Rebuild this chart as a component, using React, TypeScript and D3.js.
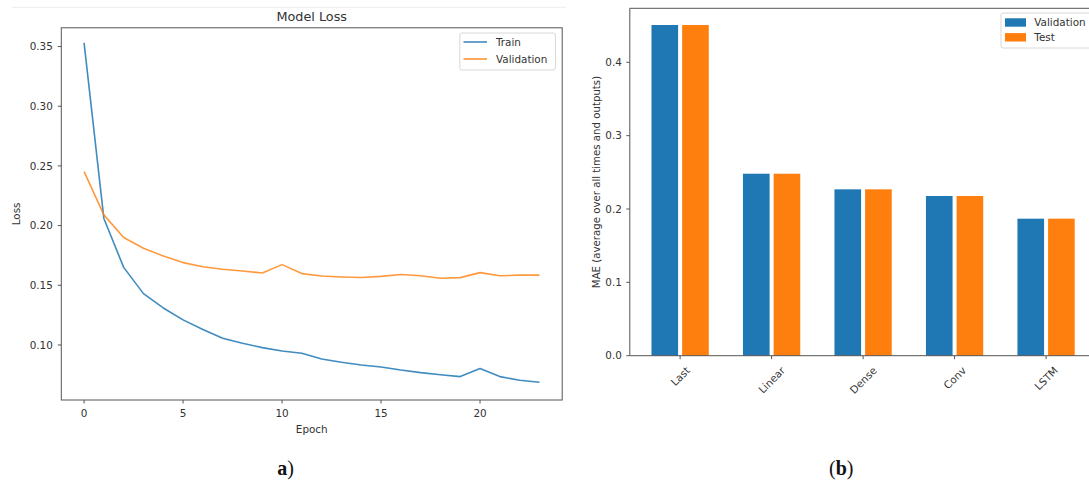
import React, { useEffect, useRef } from "react";
import * as d3 from "d3";

const epochs = [0, 1, 2, 3, 4, 5, 6, 7, 8, 9, 10, 11, 12, 13, 14, 15, 16, 17, 18, 19, 20, 21, 22, 23];
const trainLoss = [0.353, 0.206, 0.165, 0.143, 0.131, 0.121, 0.113, 0.1056, 0.1014, 0.0978, 0.095, 0.093, 0.0883, 0.0855, 0.0832, 0.0816, 0.079, 0.0768, 0.0751, 0.0735, 0.0802, 0.0735, 0.0705, 0.0688];
const valLoss = [0.2452, 0.209, 0.19, 0.181, 0.1746, 0.169, 0.1655, 0.1634, 0.162, 0.1603, 0.1673, 0.1598, 0.1578, 0.157, 0.1565, 0.1575, 0.159, 0.158, 0.1559, 0.1564, 0.1606, 0.158, 0.1585, 0.1585];
const lossTicks = [0.1, 0.15, 0.2, 0.25, 0.3, 0.35];
const epochTicks = [0, 5, 10, 15, 20];

const models = ["Last", "Linear", "Dense", "Conv", "LSTM"];
const valMAE = [0.4508, 0.2481, 0.2268, 0.2177, 0.1868];
const testMAE = [0.4508, 0.2481, 0.2268, 0.2177, 0.1868];
const maeTicks = [0.0, 0.1, 0.2, 0.3, 0.4];

const BLUE = "#1f77b4";
const ORANGE = "#ff7f0e";
const TXT = "#333";
const AX = "#555";
const FONT = "'DejaVu Sans', sans-serif";

export default function App() {
  const ref = useRef<SVGSVGElement>(null);

  useEffect(() => {
    const svg = d3.select(ref.current);
    svg.selectAll("*").remove();

    // faint top border artifact
    svg.append("line").attr("x1", 12).attr("x2", 566).attr("y1", 7.3).attr("y2", 7.3)
      .attr("stroke", "#ececec").attr("stroke-width", 1);

    // ---------------- Panel a ----------------
    const L = { left: 61.3, right: 562.2, top: 27.8, bottom: 400 };
    const x = d3.scaleLinear().domain([-1.15, 24.15]).range([L.left, L.right]);
    const y = d3.scaleLinear().domain([0.0539, 0.3657]).range([L.bottom, L.top]);

    const ga = svg.append("g");
    ga.append("rect").attr("x", L.left).attr("y", L.top).attr("width", L.right - L.left)
      .attr("height", L.bottom - L.top).attr("fill", "none").attr("stroke", AX).attr("stroke-width", 1);

    lossTicks.forEach((t) => {
      ga.append("line").attr("x1", L.left - 3.5).attr("x2", L.left).attr("y1", y(t)).attr("y2", y(t))
        .attr("stroke", AX);
      ga.append("text").attr("x", L.left - 8.5).attr("y", y(t)).attr("dy", "0.35em")
        .attr("text-anchor", "end").attr("font-size", 10.4).attr("font-family", FONT).attr("fill", TXT)
        .text(d3.format(".2f")(t));
    });
    epochTicks.forEach((t) => {
      ga.append("line").attr("x1", x(t)).attr("x2", x(t)).attr("y1", L.bottom).attr("y2", L.bottom + 3.5)
        .attr("stroke", AX);
      ga.append("text").attr("x", x(t)).attr("y", L.bottom + 16.5)
        .attr("text-anchor", "middle").attr("font-size", 10.4).attr("font-family", FONT).attr("fill", TXT)
        .text(String(t));
    });

    const line = d3.line<number>().x((_, i) => x(epochs[i])).y((d) => y(d));
    ga.append("path").attr("d", line(trainLoss)).attr("fill", "none").attr("stroke", BLUE)
      .attr("stroke-width", 1.6).attr("stroke-linejoin", "round").attr("opacity", 0.85);
    ga.append("path").attr("d", line(valLoss)).attr("fill", "none").attr("stroke", ORANGE)
      .attr("stroke-width", 1.6).attr("stroke-linejoin", "round").attr("opacity", 0.8);

    ga.append("text").attr("x", (L.left + L.right) / 2).attr("y", 20.5).attr("text-anchor", "middle")
      .attr("font-size", 12.8).attr("font-family", FONT).attr("fill", TXT).text("Model Loss");
    ga.append("text").attr("x", (L.left + L.right) / 2).attr("y", 433).attr("text-anchor", "middle")
      .attr("font-size", 10.4).attr("font-family", FONT).attr("fill", TXT).text("Epoch");
    ga.append("text").attr("transform", `translate(16.5, ${(L.top + L.bottom) / 2}) rotate(-90)`)
      .attr("dy", "0.35em").attr("text-anchor", "middle")
      .attr("font-size", 10.4).attr("font-family", FONT).attr("fill", TXT).text("Loss");

    // legend a
    const lg = ga.append("g");
    lg.append("rect").attr("x", 459.8).attr("y", 33).attr("width", 95.6).attr("height", 37).attr("rx", 2)
      .attr("fill", "white").attr("stroke", "#d8d8d8");
    [["Train", BLUE, 42], ["Validation", ORANGE, 59]].forEach(([name, c, yy]) => {
      lg.append("line").attr("x1", 463.5).attr("x2", 487).attr("y1", yy as number).attr("y2", yy as number)
        .attr("stroke", c as string).attr("stroke-width", 1.6).attr("opacity", 0.85);
      lg.append("text").attr("x", 496).attr("y", yy as number).attr("dy", "0.35em")
        .attr("font-size", 10.4).attr("font-family", FONT).attr("fill", TXT).text(name as string);
    });

    // ---------------- Panel b ----------------
    const R = { left: 629.8, right: 1096.4, top: 8.3, bottom: 355.7 };
    const xb = d3.scaleLinear().domain([-0.55, 4.55]).range([R.left, R.right]);
    const yb = d3.scaleLinear().domain([0, 0.4736]).range([R.bottom, R.top]);
    const gb = svg.append("g");

    models.forEach((m, i) => {
      gb.append("rect").attr("x", xb(i - 0.313)).attr("width", xb(i - 0.022) - xb(i - 0.313))
        .attr("y", yb(valMAE[i])).attr("height", yb(0) - yb(valMAE[i])).attr("fill", BLUE);
      gb.append("rect").attr("x", xb(i + 0.022)).attr("width", xb(i + 0.313) - xb(i + 0.022))
        .attr("y", yb(testMAE[i])).attr("height", yb(0) - yb(testMAE[i])).attr("fill", ORANGE);
    });

    gb.append("path").attr("d", `M${R.right},${R.top}H${R.left}V${R.bottom}H${R.right}`)
      .attr("fill", "none").attr("stroke", AX).attr("stroke-width", 1);

    maeTicks.forEach((t) => {
      gb.append("line").attr("x1", R.left - 3.5).attr("x2", R.left).attr("y1", yb(t)).attr("y2", yb(t))
        .attr("stroke", AX);
      gb.append("text").attr("x", R.left - 8).attr("y", yb(t)).attr("dy", "0.35em")
        .attr("text-anchor", "end").attr("font-size", 10.4).attr("font-family", FONT).attr("fill", TXT)
        .text(d3.format(".1f")(t));
    });
    models.forEach((m, i) => {
      gb.append("line").attr("x1", xb(i)).attr("x2", xb(i)).attr("y1", R.bottom).attr("y2", R.bottom + 3.5)
        .attr("stroke", AX);
      const t = gb.append("text").attr("text-anchor", "middle").attr("dominant-baseline", "central")
        .attr("font-size", 10.4).attr("font-family", FONT).attr("fill", TXT).text(m);
      const w = (t.node() as SVGTextElement).getComputedTextLength();
      const h = 10.4;
      const bh = (w + h) * Math.SQRT1_2;
      t.attr("transform", `translate(${xb(i)}, ${R.bottom + 9 + bh / 2}) rotate(-45)`);
    });

    gb.append("text").attr("transform", `translate(596, ${(R.top + R.bottom) / 2}) rotate(-90)`)
      .attr("dy", "0.35em").attr("text-anchor", "middle")
      .attr("font-size", 10.2).attr("font-family", FONT).attr("fill", TXT)
      .text("MAE (average over all times and outputs)");

    // legend b
    const lb = gb.append("g");
    lb.append("rect").attr("x", 1001).attr("y", 13).attr("width", 100).attr("height", 35).attr("rx", 2)
      .attr("fill", "white").attr("stroke", "#d8d8d8");
    [["Validation", BLUE, 22.5], ["Test", ORANGE, 37.3]].forEach(([name, c, yy]) => {
      lb.append("rect").attr("x", 1005).attr("y", (yy as number) - 4.2).attr("width", 21).attr("height", 8.4)
        .attr("fill", c as string);
      lb.append("text").attr("x", 1034.3).attr("y", yy as number).attr("dy", "0.35em")
        .attr("font-size", 10.4).attr("font-family", FONT).attr("fill", TXT).text(name as string);
    });

    // captions
    const ca = svg.append("text").attr("x", 285.5).attr("y", 475).attr("text-anchor", "middle")
      .attr("font-family", "'Liberation Serif', serif").attr("font-size", 20).attr("fill", "#111");
    ca.append("tspan").attr("font-weight", "bold").text("a");
    ca.append("tspan").text(")");
    const cb = svg.append("text").attr("x", 841.3).attr("y", 475).attr("text-anchor", "middle")
      .attr("font-family", "'Liberation Serif', serif").attr("font-size", 20).attr("fill", "#111");
    cb.append("tspan").text("(");
    cb.append("tspan").attr("font-weight", "bold").text("b");
    cb.append("tspan").text(")");
  }, []);

  return (
    <svg
      ref={ref}
      width={1089}
      height={482}
      style={{ position: "absolute", left: 0, top: 0, background: "white" }}
    />
  );
}
